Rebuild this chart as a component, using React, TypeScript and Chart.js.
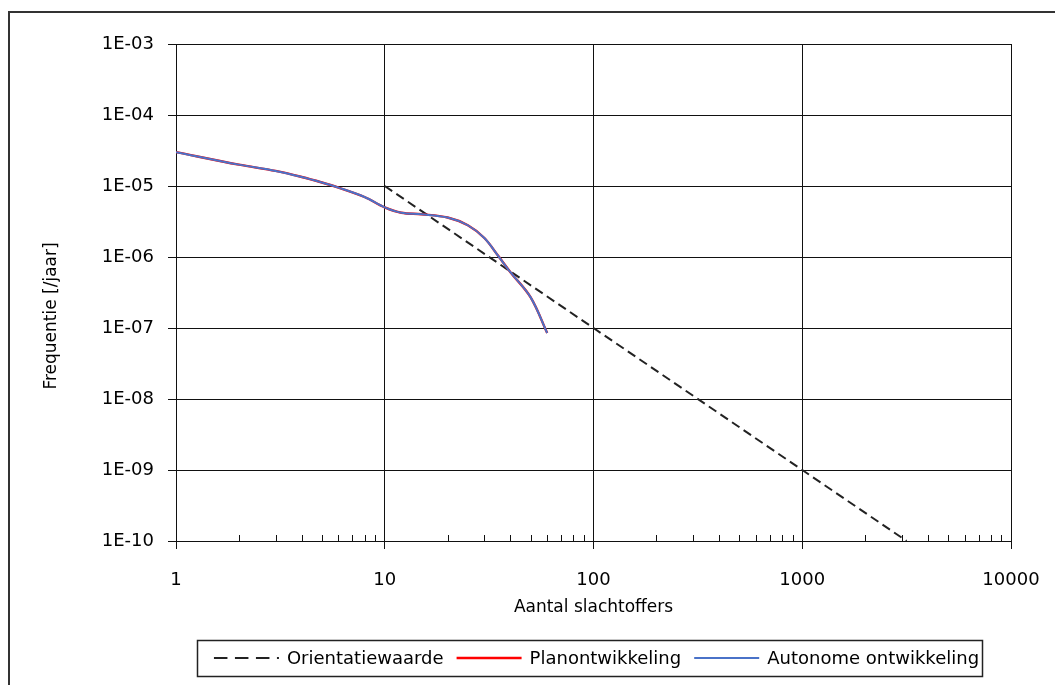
import React, { useEffect, useRef } from 'react';
import { Chart, registerables } from 'chart.js';

Chart.register(...registerables);

const victims = [1, 2, 3, 4, 5, 6, 8, 10, 12, 15, 20, 25, 30, 35, 40, 50, 60];
const planFreq = [3.0e-5, 2.0e-5, 1.63e-5, 1.34e-5, 1.12e-5, 9.5e-6, 7.0e-6, 5.0e-6, 4.2e-6, 4.0e-6, 3.6e-6, 2.8e-6, 1.85e-6, 1.03e-6, 6.1e-7, 2.7e-7, 8.5e-8];
const autoFreq = [3.0e-5, 2.0e-5, 1.63e-5, 1.34e-5, 1.12e-5, 9.5e-6, 7.0e-6, 5.0e-6, 4.2e-6, 4.0e-6, 3.6e-6, 2.8e-6, 1.85e-6, 1.03e-6, 6.1e-7, 2.7e-7, 8.5e-8];
const orientX = [10, 100, 1000, 3162];
const orientY = [1e-5, 1e-7, 1e-9, 1e-10];
const xTickLabels = ['1', '10', '100', '1000', '10000'];
const yTickLabels = ['1E-10', '1E-09', '1E-08', '1E-07', '1E-06', '1E-05', '1E-04', '1E-03'];
const xTitle = 'Aantal slachtoffers';
const yTitle = 'Frequentie [/jaar]';

const FONT = '"DejaVu Sans", Verdana, sans-serif';
const LINE = '#111';

const isPow10 = (v: number) => Math.abs(Math.log10(v) - Math.round(Math.log10(v))) < 1e-6;

const decor = {
  id: 'decor',
  afterDraw(chart: any) {
    const ctx = chart.ctx;
    const { left, right, bottom } = chart.chartArea;
    const xs = chart.scales.x;
    ctx.save();
    // minor ticks on x axis
    ctx.strokeStyle = LINE;
    ctx.lineWidth = 1;
    ctx.beginPath();
    for (let d = 1; d < 10000; d *= 10) {
      for (let m = 2; m <= 9; m++) {
        const px = Math.round(xs.getPixelForValue(d * m)) + 0.5;
        ctx.moveTo(px, bottom);
        ctx.lineTo(px, bottom - 6);
      }
    }
    ctx.stroke();

    // legend (drawn from the datasets)
    const sampleW = 65;
    const gapText = 8;
    const gapItem = 13;
    ctx.font = '18px ' + FONT;
    const items = chart.data.datasets.map((ds: any) => ({
      label: ds.label,
      color: ds.borderColor,
      dash: (ds.borderDash || []).map((v: number) => v * 1.5),
      width: ds.borderWidth,
      tw: ctx.measureText(ds.label).width,
    }));
    let total = 0;
    items.forEach((it: any, i: number) => {
      total += sampleW + gapText + it.tw + (i < items.length - 1 ? gapItem : 0);
    });
    const cx = (left + right) / 2 + 3;
    let x = cx - total / 2;
    const legTop = bottom + 99;
    const cy = legTop + 18;
    ctx.lineWidth = 1.5;
    ctx.strokeStyle = '#222';
    ctx.setLineDash([]);
    ctx.strokeRect(Math.round(x - 17) + 0.5, legTop + 0.5, Math.round(total + 20), 36);
    ctx.textAlign = 'left';
    ctx.textBaseline = 'middle';
    items.forEach((it: any) => {
      ctx.beginPath();
      ctx.setLineDash(it.dash);
      ctx.strokeStyle = it.color;
      ctx.lineWidth = it.width;
      ctx.moveTo(x, cy);
      ctx.lineTo(x + sampleW, cy);
      ctx.stroke();
      ctx.setLineDash([]);
      ctx.fillStyle = '#000';
      ctx.fillText(it.label, x + sampleW + gapText, cy + 1);
      x += sampleW + gapText + it.tw + gapItem;
    });

    // outer frame
    ctx.lineWidth = 2;
    ctx.strokeStyle = '#333';
    ctx.beginPath();
    ctx.moveTo(9, chart.height);
    ctx.lineTo(9, 12);
    ctx.lineTo(chart.width, 12);
    ctx.stroke();
    // y title
    ctx.fillStyle = '#000';
    ctx.font = '17px ' + FONT;
    ctx.textAlign = 'center';
    ctx.textBaseline = 'middle';
    ctx.translate(52, 316);
    ctx.rotate(-Math.PI / 2);
    ctx.fillText(yTitle, 0, 0);
    ctx.restore();
  },
};

export default function App() {
  const ref = useRef<HTMLCanvasElement>(null);

  useEffect(() => {
    if (!ref.current) return;
    const chart = new Chart(ref.current, {
      type: 'line',
      data: {
        datasets: [
          {
            label: 'Orientatiewaarde',
            data: orientX.map((x, i) => ({ x, y: orientY[i] })),
            borderColor: '#222',
            backgroundColor: '#222',
            borderDash: [9, 5],
            borderWidth: 2,
            pointRadius: 0,
            tension: 0,
            order: 2,
          },
          {
            label: 'Planontwikkeling',
            data: victims.map((x, i) => ({ x, y: planFreq[i] })),
            borderColor: '#ff0000',
            backgroundColor: '#ff0000',
            borderWidth: 2.4,
            pointRadius: 0,
            tension: 0.35,
            order: 1,
          },
          {
            label: 'Autonome ontwikkeling',
            data: victims.map((x, i) => ({ x, y: autoFreq[i] })),
            borderColor: '#4a72c8',
            backgroundColor: '#4a72c8',
            borderWidth: 2,
            pointRadius: 0,
            tension: 0.35,
            order: 0,
          },
        ] as any,
      },
      options: {
        animation: false,
        responsive: true,
        maintainAspectRatio: false,
        events: [],
        layout: { padding: { top: 44, right: 44, bottom: 45, left: 0 } },
        scales: {
          x: {
            type: 'logarithmic',
            position: 'bottom',
            min: 1,
            max: 10000,
            afterBuildTicks: (s: any) => {
              s.ticks = s.ticks.filter((t: any) => isPow10(t.value));
            },
            afterFit: (s: any) => {
              s.height = 99;
              s.paddingLeft = 0;
              s.paddingRight = 0;
            },
            grid: { color: LINE, lineWidth: 1, tickLength: 8, tickColor: LINE },
            border: { display: true, color: LINE, width: 1 },
            ticks: {
              autoSkip: false,
              maxRotation: 0,
              color: '#000',
              padding: 21,
              font: { family: FONT, size: 18 },
              callback: (v: any) => xTickLabels[Math.round(Math.log10(Number(v)))],
            },
            title: {
              display: true,
              text: xTitle,
              color: '#000',
              font: { family: FONT, size: 17 },
              padding: { top: 0, bottom: 22 },
            },
          },
          y: {
            type: 'logarithmic',
            min: 1e-10,
            max: 1e-3,
            afterBuildTicks: (s: any) => {
              s.ticks = s.ticks.filter((t: any) => isPow10(t.value));
            },
            afterFit: (s: any) => {
              s.width = 176;
              s.paddingTop = 0;
              s.paddingBottom = 0;
            },
            grid: { color: LINE, lineWidth: 1, tickLength: 8, tickColor: LINE },
            border: { display: true, color: LINE, width: 1 },
            ticks: {
              autoSkip: false,
              color: '#000',
              padding: 14,
              font: { family: FONT, size: 18 },
              callback: (v: any) => yTickLabels[Math.round(Math.log10(Number(v))) + 10],
            },
          },
        },
        plugins: {
          tooltip: { enabled: false },
          legend: { display: false },
        },
      } as any,
      plugins: [decor],
    });
    return () => chart.destroy();
  }, []);

  return (
    <div style={{ position: 'fixed', left: 0, top: 0, width: 1055, height: 685, background: '#fff' }}>
      <canvas ref={ref} />
    </div>
  );
}
